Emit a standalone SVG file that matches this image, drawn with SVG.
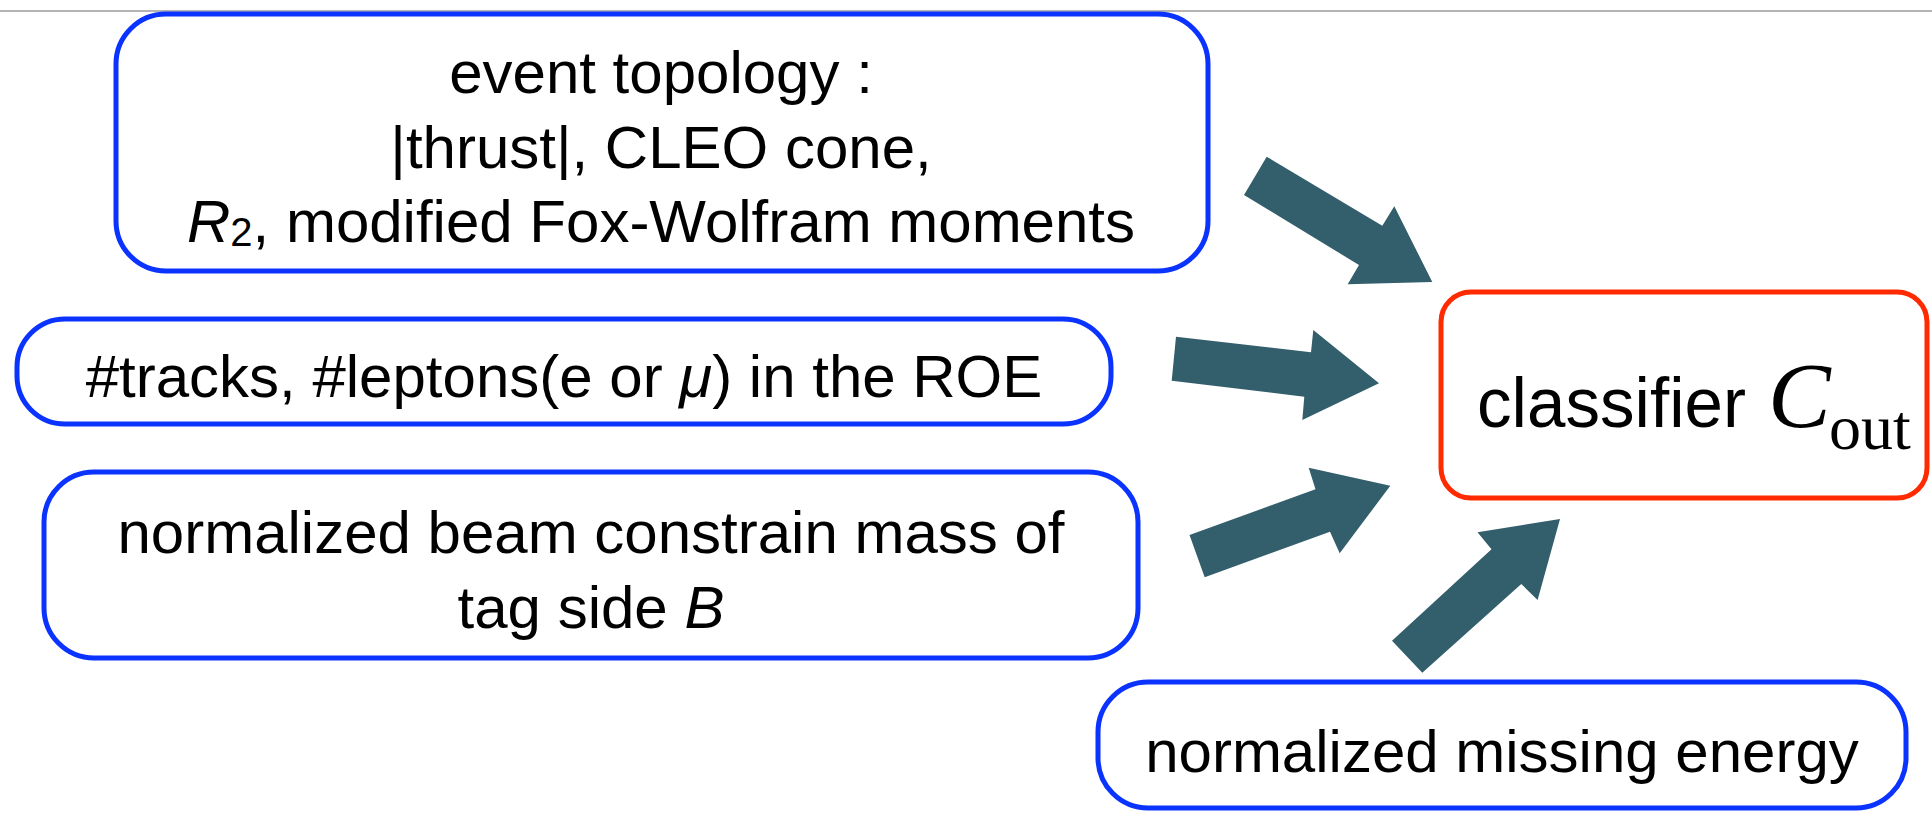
<svg xmlns="http://www.w3.org/2000/svg" width="1932" height="813" viewBox="0 0 1932 813">
<style>
.box{fill:#ffffff;stroke:#0a33ff;stroke-width:5}
.out{fill:#ffffff;stroke:#ff2a00;stroke-width:5}
.t{font-family:"Liberation Sans",Arial,Helvetica,sans-serif;font-size:60px;fill:#000000;text-anchor:middle}
.arrow{fill:#335e6b;stroke:none}
</style>
<rect x="0" y="0" width="1932" height="813" fill="#ffffff"/>
<line x1="0" y1="11" x2="1932" y2="11" stroke="#b4b4b4" stroke-width="2"/>
<g id="connectors">
<polygon class="arrow" points="1266.7,156.7 1382.3,225.7 1394.3,206.3 1432.3,282 1347.7,284.3 1359,265 1244,195"/>
<polygon class="arrow" points="1176,336.7 1311,352.3 1313.3,330 1379,383.3 1302.3,420 1304.3,396.7 1171.7,380.7"/>
<polygon class="arrow" points="1189.5,535 1315.5,489.3 1308.7,467.7 1390.3,485.7 1339.7,553.3 1330,531.7 1204.7,577.3"/>
<polygon class="arrow" points="1392,640.7 1491.5,549.3 1477.5,532.3 1560,519 1537.6,600 1521.3,584 1422.3,672.7"/>
</g>
<g id="event-topology">
<rect class="box" x="116" y="14" width="1092" height="257" rx="50" ry="50"/>
<text class="t" x="661" y="93">event topology :</text>
<text class="t" x="661" y="168">|thrust|, CLEO cone,</text>
<text class="t" x="661" y="242"><tspan font-style="italic">R</tspan><tspan font-size="40" dy="4">2</tspan><tspan dy="-4">, modified Fox-Wolfram moments</tspan></text>
</g>
<g id="tracks-leptons">
<rect class="box" x="17" y="319" width="1094" height="105" rx="48" ry="48"/>
<text class="t" x="564" y="397">#tracks, #leptons(e or <tspan font-style="italic">μ</tspan>) in the ROE</text>
</g>
<g id="beam-mass">
<rect class="box" x="44" y="472" width="1094" height="186" rx="50" ry="50"/>
<text class="t" x="591" y="553">normalized beam constrain mass of</text>
<text class="t" x="591" y="628">tag side <tspan font-style="italic">B</tspan></text>
</g>
<g id="missing-energy">
<rect class="box" x="1098" y="682" width="808" height="126" rx="50" ry="50"/>
<text class="t" x="1502" y="772">normalized missing energy</text>
</g>
<g id="classifier">
<rect class="out" x="1441" y="292" width="486" height="206" rx="30" ry="30"/>
<text font-family="&quot;Liberation Sans&quot;,Arial,sans-serif" font-size="71" fill="#000000" x="1477" y="427" textLength="269" lengthAdjust="spacingAndGlyphs">classifier</text>
<text font-family="&quot;Liberation Serif&quot;,&quot;Times New Roman&quot;,serif" fill="#000000"><tspan x="1768" y="427" font-size="94" font-style="italic">C</tspan><tspan x="1829" y="449" font-size="64">out</tspan></text>
</g>
</svg>
